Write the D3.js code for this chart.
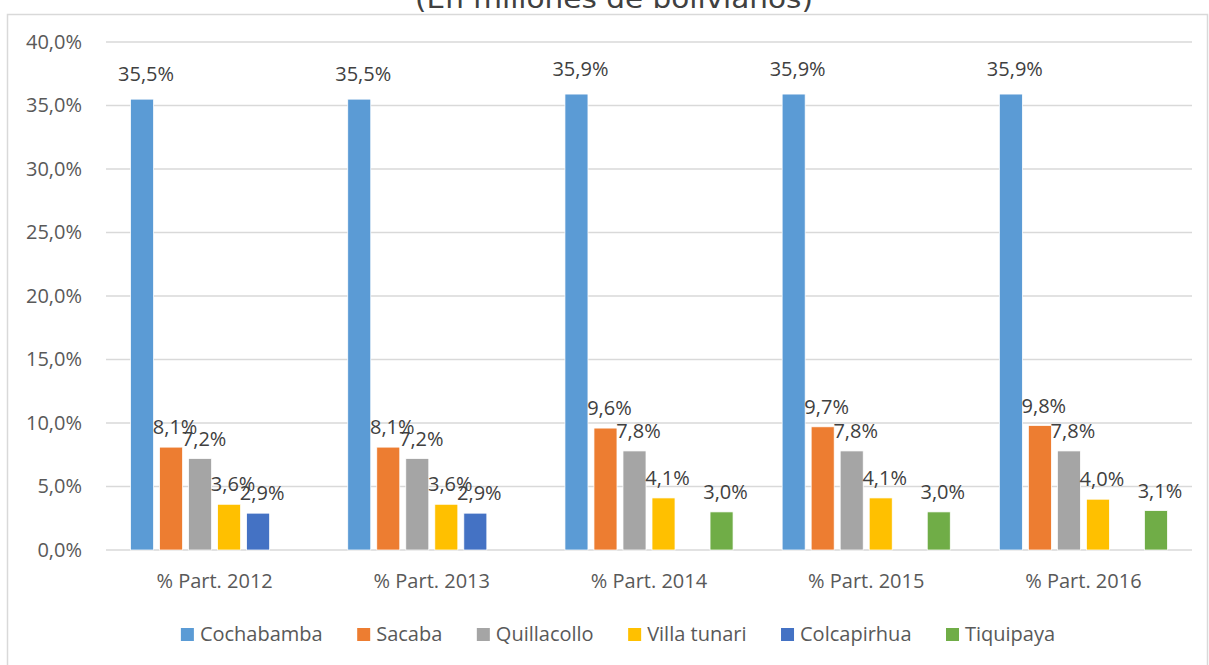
<!DOCTYPE html>
<html>
<head>
<meta charset="utf-8">
<script src="https://cdn.jsdelivr.net/npm/d3@7"></script>
<style>
  body { margin: 0; background: #fff; }
  svg { display: block; font-family: "Open Sans", sans-serif; }
</style>
</head>
<body>
<script>
// chart data
var categories = ["% Part. 2012", "% Part. 2013", "% Part. 2014", "% Part. 2015", "% Part. 2016"];
var seriesNames = ["Cochabamba", "Sacaba", "Quillacollo", "Villa tunari", "Colcapirhua", "Tiquipaya"];
var cochabamba  = [35.5, 35.5, 35.9, 35.9, 35.9];
var sacaba      = [8.1, 8.1, 9.6, 9.7, 9.8];
var quillacollo = [7.2, 7.2, 7.8, 7.8, 7.8];
var villaTunari = [3.6, 3.6, 4.1, 4.1, 4.0];
var colcapirhua = [2.9, 2.9, null, null, null];
var tiquipaya   = [null, null, 3.0, 3.0, 3.1];
var yTicks = [0, 5, 10, 15, 20, 25, 30, 35, 40];
var colors = ["#5B9BD5", "#ED7D31", "#A5A5A5", "#FFC000", "#4472C4", "#70AD47"];

var seriesValues = [cochabamba, sacaba, quillacollo, villaTunari, colcapirhua, tiquipaya];

var W = 1209, H = 665;
var plot = {left: 106, right: 1192, top: 42, bottom: 550};

var svg = d3.select("body").append("svg")
    .attr("width", W)
    .attr("height", H);

// outer frame
svg.append("rect")
    .attr("x", 7.5).attr("y", 14.5)
    .attr("width", 1200).attr("height", 680)
    .attr("fill", "none")
    .attr("stroke", "#d9d9d9")
    .attr("stroke-width", 1.5);

// title (cut at the top in the reference)
svg.append("text")
    .attr("x", 614).attr("y", 8)
    .attr("text-anchor", "middle")
    .attr("font-family", "DejaVu Sans, sans-serif")
    .attr("font-size", "26px")
    .attr("textLength", 398)
    .attr("lengthAdjust", "spacingAndGlyphs")
    .attr("fill", "#404040")
    .text("(En millones de bolivianos)");

// scales
var x0 = d3.scaleBand().domain(categories).range([plot.left, plot.right]);
var inner = x0.bandwidth() * 0.113;
var x1 = d3.scaleBand().domain(seriesNames)
    .range([inner, x0.bandwidth() - inner])
    .paddingInner(0.207);
var y = d3.scaleLinear().domain([0, 40]).range([plot.bottom, plot.top]);
var fmt = function(v) { return v.toFixed(1).replace(".", ",") + "%"; };

// gridlines
svg.append("g")
    .selectAll("line")
    .data(yTicks)
    .enter().append("line")
    .attr("x1", plot.left).attr("x2", plot.right)
    .attr("y1", function(d) { return y(d); })
    .attr("y2", function(d) { return y(d); })
    .attr("stroke", "#d9d9d9")
    .attr("stroke-width", 1.3);

// y axis labels
var yAxis = svg.append("g")
    .attr("transform", "translate(" + (plot.left - 8) + ",0)")
    .call(d3.axisLeft(y).tickValues(yTicks).tickSize(0).tickPadding(16).tickFormat(fmt));
yAxis.select(".domain").remove();
yAxis.selectAll("text")
    .attr("font-family", "Open Sans, sans-serif")
    .attr("font-size", "20px")
    .attr("fill", "#595959");

// x axis labels
var xAxis = svg.append("g")
    .attr("transform", "translate(0," + plot.bottom + ")")
    .call(d3.axisBottom(x0).tickSize(0).tickPadding(24));
xAxis.select(".domain").remove();
xAxis.selectAll("text")
    .attr("font-family", "Open Sans, sans-serif")
    .attr("font-size", "20px")
    .attr("fill", "#595959");

// bars
var rows = [];
seriesNames.forEach(function(s, si) {
    categories.forEach(function(c, ci) {
        var v = seriesValues[si][ci];
        if (v !== null) rows.push({series: s, cat: c, value: v, color: colors[si]});
    });
});

svg.append("g")
    .selectAll("rect")
    .data(rows)
    .enter().append("rect")
    .attr("x", function(d) { return x0(d.cat) + x1(d.series); })
    .attr("y", function(d) { return y(d.value); })
    .attr("width", x1.bandwidth())
    .attr("height", function(d) { return y(0) - y(d.value); })
    .attr("fill", function(d) { return d.color; })
    .attr("stroke", "#fff")
    .attr("stroke-width", 0.75);

// value labels
svg.append("g")
    .selectAll("text")
    .data(rows)
    .enter().append("text")
    .attr("x", function(d) { return x0(d.cat) + x1(d.series) + x1.bandwidth() / 2 + 4; })
    .attr("y", function(d) { return y(d.value) - (d.value > 20 ? 18 : 13); })
    .attr("text-anchor", "middle")
    .attr("font-size", "20px")
    .attr("fill", "#404040")
    .text(function(d) { return fmt(d.value); });

// legend
var gap = 34.5;
var legend = svg.append("g");
var items = legend.selectAll("g")
    .data(seriesNames)
    .enter().append("g");
items.append("rect")
    .attr("width", 13).attr("height", 13)
    .attr("y", -13)
    .attr("fill", function(d, i) { return colors[i]; });
items.append("text")
    .attr("x", 19)
    .attr("font-size", "20px")
    .attr("fill", "#595959")
    .text(function(d) { return d; });

var pos = 0;
items.each(function() {
    var g = d3.select(this);
    g.attr("transform", "translate(" + pos + ",0)");
    pos += 19 + g.select("text").node().getComputedTextLength() + gap;
});
var total = pos - gap;
legend.attr("transform", "translate(" + (618 - total / 2) + ",641)");
</script>
</body>
</html>
